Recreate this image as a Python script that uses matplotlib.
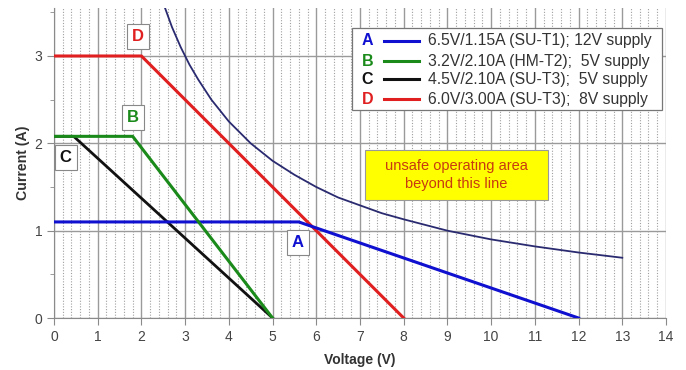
import matplotlib
matplotlib.use("Agg")
import matplotlib.pyplot as plt
from matplotlib.patches import Rectangle
from matplotlib.lines import Line2D
from matplotlib.ticker import MultipleLocator

plt.rcParams['font.family'] = ['Liberation Sans', 'DejaVu Sans']

# Data
a_v = [0, 5.6, 12]
a_i = [1.1, 1.1, 0]
b_v = [0, 1.8, 5]
b_i = [2.08, 2.08, 0]
c_v = [0, 0.45, 5]
c_i = [2.08, 2.08, 0]
d_v = [0, 2, 8]
d_i = [3.0, 3.0, 0]
lim_v = [2.54, 2.7, 2.9, 3.1, 3.3, 3.6, 4.0, 4.5, 5.0, 5.5, 6.0, 6.5, 7.0, 7.5, 8.0, 9.0, 10.0, 11.0, 12.0, 13.0]
lim_i = [3.55, 3.33, 3.10, 2.90, 2.73, 2.50, 2.25, 2.00, 1.80, 1.64, 1.50, 1.38, 1.29, 1.20, 1.13, 1.00, 0.90, 0.82, 0.75, 0.69]

letters = ['A', 'B', 'C', 'D']
colors = ['#1010d0', '#1a8a1a', '#111111', '#e02020']
legend_texts = ['6.5V/1.15A (SU-T1); 12V supply',
                '3.2V/2.10A (HM-T2);  5V supply',
                '4.5V/2.10A (SU-T3);  5V supply',
                '6.0V/3.00A (SU-T3);  8V supply']
label_pos = [(5.58, 0.87), (1.81, 2.30), (0.27, 1.84), (1.92, 3.22)]

fig = plt.figure(figsize=(6.86, 3.70), dpi=100)
ax = fig.add_axes([0.0787, 0.1405, 0.8921, 0.838])
ax.set_xlim(0, 14)
ax.set_ylim(0, 3.55)

ax.xaxis.set_major_locator(MultipleLocator(1))
ax.xaxis.set_minor_locator(MultipleLocator(0.2))
ax.yaxis.set_major_locator(MultipleLocator(1))
ax.yaxis.set_minor_locator(MultipleLocator(0.5))

ax.grid(which='major', axis='both', color='#9a9a9a', lw=1.0)
ax.grid(which='minor', axis='x', color='#a0a0a0', lw=0.8, ls=(0, (1, 1.5)))
ax.set_axisbelow(True)

for s in ['top', 'right']:
    ax.spines[s].set_visible(False)
for s in ['left', 'bottom']:
    ax.spines[s].set_color('#8a8a8a')
ax.tick_params(which='both', colors='#8a8a8a', labelcolor='#444444', labelsize=10)
ax.tick_params(which='major', length=5)
ax.tick_params(which='minor', length=3)
ax.tick_params(axis='x', which='minor', length=0)

ax.set_xlabel('Voltage (V)', fontsize=10, fontweight='bold', color='#333333', labelpad=6.5)
ax.set_ylabel('Current (A)', fontsize=10.2, fontweight='bold', color='#333333', labelpad=3)

ax.plot(lim_v, lim_i, color='#2a2a70', lw=1.3, zorder=3)
ax.plot(d_v, d_i, color=colors[3], lw=2.2, zorder=4)
ax.plot(c_v, c_i, color=colors[2], lw=2.0, zorder=4)
ax.plot(b_v, b_i, color=colors[1], lw=2.2, zorder=5)
ax.plot(a_v, a_i, color=colors[0], lw=2.2, zorder=4)

for L, col, (x, y) in zip(letters, colors, label_pos):
    ax.text(x, y, L, color=col, fontsize=12, fontweight='bold', ha='center', va='center', zorder=6,
            bbox=dict(boxstyle='square,pad=0.3', fc='white', ec='#888888', lw=0.8))

# Legend box
ax.add_patch(Rectangle((0.487, 0.671), 0.506, 0.264, transform=ax.transAxes,
                       fc='white', ec='#777777', lw=0.9, zorder=7))
rows_y = [0.894, 0.828, 0.770, 0.706]
for L, col, txt, ry in zip(letters, colors, legend_texts, rows_y):
    ax.text(0.512, ry, L, transform=ax.transAxes, color=col, fontsize=11.5, fontweight='bold',
            ha='center', va='center', zorder=8)
    ax.add_line(Line2D([0.540, 0.597], [ry, ry], transform=ax.transAxes, color=col, lw=2.2, zorder=8))
    ax.text(0.611, ry, txt, transform=ax.transAxes, color='#333333', fontsize=11.3,
            ha='left', va='center', zorder=8)

# Unsafe area box
ax.add_patch(Rectangle((0.508, 0.381), 0.299, 0.161, transform=ax.transAxes,
                       fc='#ffff00', ec='#999999', lw=0.8, zorder=7))
ax.text(0.6575, 0.4615, 'unsafe operating area\nbeyond this line', transform=ax.transAxes,
        color='#c83a10', fontsize=10.5, ha='center', va='center', linespacing=1.3, zorder=8)

fig.savefig('out.png', dpi=100)
